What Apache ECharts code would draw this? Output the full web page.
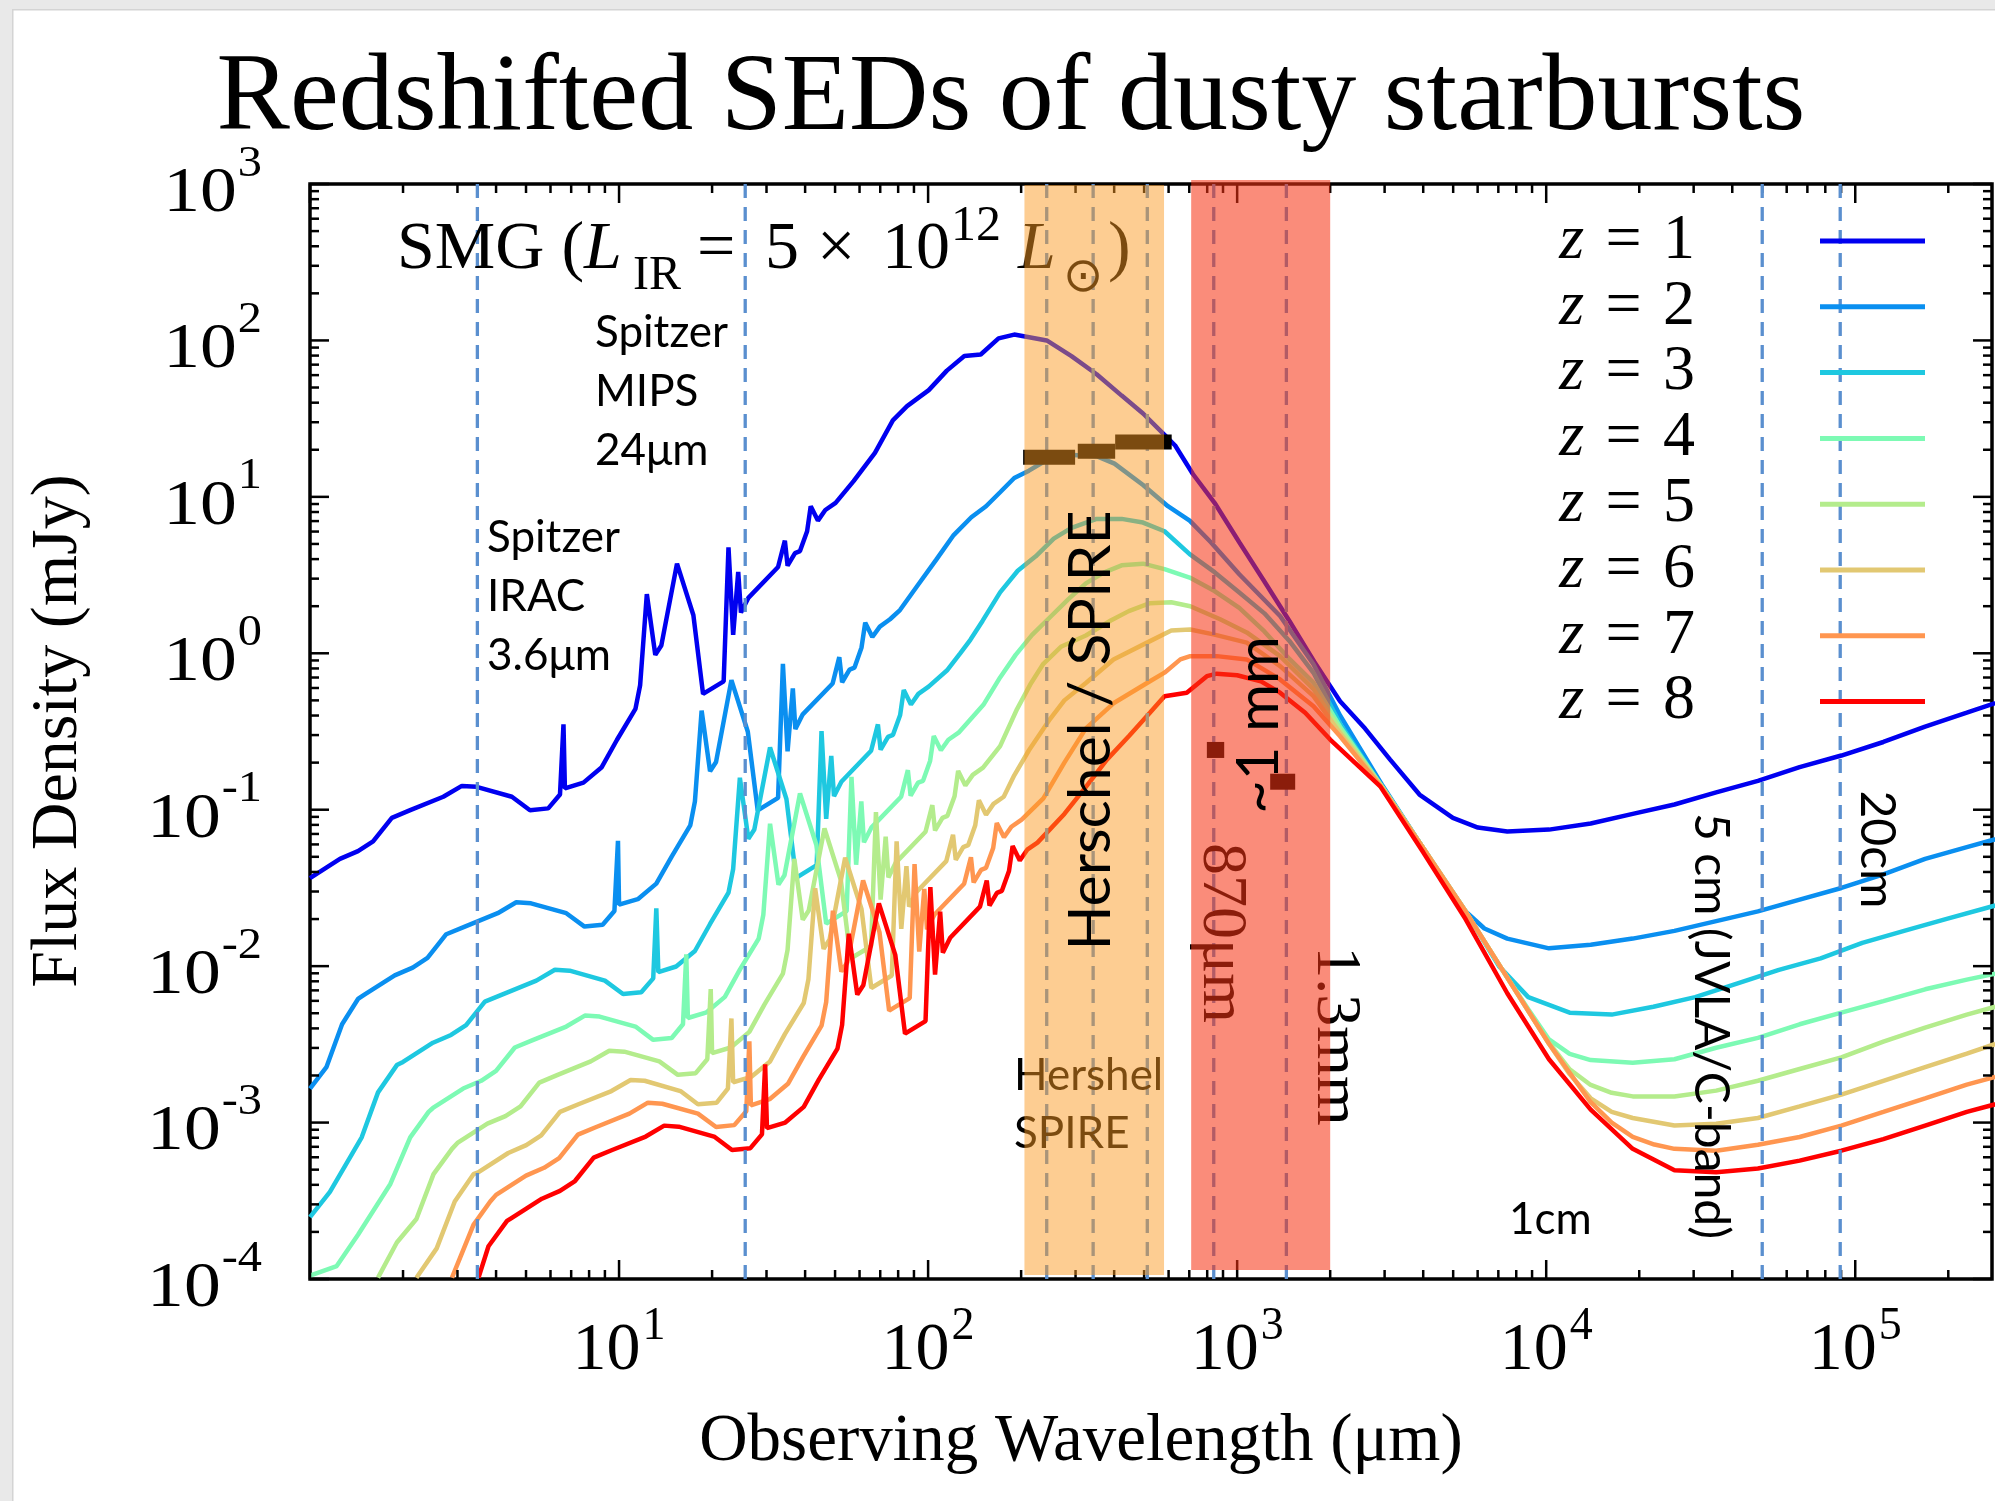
<!DOCTYPE html>
<html><head><meta charset="utf-8">
<script src="https://cdn.jsdelivr.net/npm/echarts@6/dist/echarts.min.js"></script>
<style>html,body{margin:0;padding:0;background:#fff}#c{width:1995px;height:1501px}</style>
</head><body><div id="c"></div>
<script>
// ---------------- data (wavelength in micron, flux density in mJy) ----------------
const seriesNames = ['z = 1','z = 2','z = 3','z = 4','z = 5','z = 6','z = 7','z = 8'];
const seriesColors = ['#0000f0','#0a8ff0','#1ec8e0','#7dfab4','#b4ec8c','#e2c872','#ff9650','#ff0000'];

const sedZ1 = [[1.0,0.0365],[1.25,0.0485],[1.43,0.0544],[1.6,0.0628],[1.84,0.0887],[2.11,0.0993],[2.7,0.121],[3.1,0.142],[3.46,0.14],[4.5,0.121],[5.15,0.0993],[5.9,0.102],[6.44,0.125],[6.61,0.351],[6.68,0.137],[7.67,0.149],[8.79,0.187],[9.84,0.279],[11.3,0.441],[11.7,0.625],[12.3,2.39],[13.1,0.977],[13.7,1.12],[15.4,3.74],[17.4,1.75],[18.7,0.55],[21.8,0.661],[22.6,4.76],[23.4,1.31],[24.3,3.31],[24.8,1.82],[26.2,2.26],[32.7,3.56],[34.4,5.25],[35.1,3.63],[37.1,4.37],[38.5,4.5],[40.6,6.03],[41.7,8.71],[44.0,7.05],[46.5,8.24],[50.2,9.16],[57.4,12.6],[67.3,19.1],[76.9,30.8],[85.5,38.0],[100.5,48.1],[115,64.1],[131,79.4],[148,81.3],[169,103],[190,109],[206,106],[242,100],[291,79.4],[351,60.8],[423,44.4],[496,34.1],[582,24.9],[630,21.3],[719,14.0],[845,9.16],[1016,5.13],[1225,2.88],[1476,1.61],[1778,0.88],[2153,0.494],[2594,0.33],[3126,0.209],[3890,0.125],[4989,0.0887],[6012,0.0769],[7482,0.0726],[10210,0.0746],[13930,0.0817],[19050,0.094],[26000,0.108],[35480,0.129],[48420,0.153],[66070,0.187],[90160,0.222],[123300,0.271],[168300,0.34],[229600,0.417],[283800,0.481]];

const sedZ2 = [[1.0,0.00165],[1.13,0.00226],[1.27,0.00425],[1.43,0.00617],[1.5,0.00657],[1.88,0.00873],[2.15,0.00979],[2.4,0.0113],[2.76,0.016],[3.17,0.0179],[4.05,0.0218],[4.65,0.0256],[5.19,0.0252],[6.75,0.0218],[7.73,0.0179],[8.85,0.0184],[9.66,0.0225],[9.92,0.0632],[10.0,0.0247],[11.5,0.0268],[13.2,0.0337],[14.8,0.0502],[17.0,0.0794],[17.6,0.113],[18.5,0.43],[19.7,0.176],[20.6,0.202],[23.1,0.673],[26.1,0.315],[28.1,0.099],[32.7,0.119],[33.9,0.857],[35.1,0.236],[36.5,0.596],[37.2,0.328],[39.3,0.407],[49.1,0.641],[51.6,0.945],[52.7,0.653],[55.7,0.787],[57.8,0.81],[60.9,1.09],[62.6,1.57],[66.0,1.27],[69.8,1.48],[75.3,1.65],[81.1,1.89],[92.7,2.73],[106,3.94],[121,5.7],[138,7.41],[154,8.71],[171,10.7],[190,13.2],[212,14.7],[242,17.2],[284,18.6],[351,18.2],[401,16.3],[496,11.9],[597,8.71],[702,7.05],[822,5.13],[1016,3.2],[1377,1.73],[1766,0.85],[2153,0.4],[2938,0.145],[4009,0.0564],[5309,0.0237],[6310,0.0174],[7482,0.015],[10210,0.013],[13930,0.0137],[19050,0.015],[26000,0.0168],[35480,0.0194],[48420,0.0224],[66070,0.0266],[90160,0.0316],[123300,0.0386],[168300,0.0485],[229600,0.0577],[283800,0.0647]];

const sedZ3 = [[1.0,0.000249],[1.16,0.000361],[1.47,0.000805],[1.66,0.00156],[1.91,0.00233],[2.0,0.00244],[2.5,0.00324],[2.86,0.00363],[3.2,0.0042],[3.68,0.00593],[4.22,0.00663],[5.4,0.00808],[6.2,0.00949],[6.92,0.00935],[9.0,0.00808],[10.3,0.00663],[11.8,0.00681],[12.9,0.00835],[13.2,0.0234],[13.4,0.00915],[15.3,0.00995],[17.6,0.0125],[19.7,0.0186],[22.6,0.0295],[23.4,0.0418],[24.6,0.16],[26.2,0.0653],[27.4,0.0748],[30.8,0.25],[34.8,0.117],[37.4,0.0367],[43.6,0.0442],[45.2,0.318],[46.8,0.0875],[48.6,0.221],[49.6,0.122],[52.4,0.151],[65.4,0.238],[68.8,0.351],[70.2,0.242],[74.2,0.292],[77.0,0.301],[81.2,0.403],[83.4,0.582],[88.0,0.471],[93.0,0.55],[100.4,0.612],[115,0.776],[127,1.0],[137,1.22],[150,1.61],[171,2.45],[195,3.37],[223,4.17],[255,5.41],[291,6.34],[351,7.23],[423,7.23],[496,6.85],[582,6.03],[702,4.3],[845,3.3],[1016,2.45],[1225,1.8],[1476,1.2],[1766,0.75],[2153,0.355],[2938,0.141],[4009,0.0564],[5483,0.0224],[7031,0.01],[8750,0.00634],[11910,0.00504],[16290,0.0049],[22230,0.0055],[30340,0.00634],[41400,0.00774],[56620,0.00946],[77270,0.0112],[105400,0.0141],[143900,0.0168],[196300,0.02],[283800,0.0244]];

const sedZ4 = [[1.0,0.000105],[1.22,0.000121],[1.43,0.000192],[1.82,0.000405],[2.11,0.000805],[2.42,0.00117],[2.5,0.00124],[3.13,0.00165],[3.58,0.00185],[4.0,0.00214],[4.6,0.00302],[5.28,0.00338],[6.75,0.00411],[7.75,0.00483],[8.65,0.00476],[11.3,0.00411],[12.9,0.00338],[14.8,0.00347],[16.1,0.00425],[16.5,0.0119],[16.7,0.00466],[19.2,0.00507],[22.0,0.00636],[24.6,0.00949],[28.3,0.015],[29.3,0.0213],[30.8,0.0813],[32.8,0.0332],[34.3,0.0381],[38.5,0.127],[43.5,0.0595],[46.8,0.0187],[54.5,0.0225],[56.5,0.162],[58.5,0.0445],[60.8,0.113],[62.0,0.0619],[65.5,0.0768],[81.8,0.121],[86.0,0.179],[87.8,0.123],[92.8,0.149],[96.3,0.153],[101.5,0.205],[104.3,0.296],[110,0.24],[116.3,0.28],[125.5,0.311],[151,0.468],[171,0.701],[192,0.977],[217,1.31],[248,1.7],[284,2.21],[324,2.8],[370,3.28],[423,3.65],[496,3.74],[582,3.45],[702,3.05],[845,2.5],[1016,1.95],[1225,1.38],[1476,0.92],[1766,0.65],[2153,0.339],[2938,0.141],[4009,0.0564],[5483,0.0224],[7482,0.00845],[8750,0.0053],[10210,0.0034],[11910,0.00275],[13930,0.00251],[19050,0.00241],[26000,0.00254],[35480,0.00301],[48420,0.00348],[66070,0.00425],[90160,0.00504],[123300,0.00598],[168300,0.00711],[229600,0.0082],[283800,0.00895]];

const sedZ5 = [[1.66,0.000102],[1.91,0.000171],[2.21,0.000242],[2.51,0.000468],[2.88,0.000679],[3.0,0.000741],[3.75,0.000985],[4.29,0.0011],[4.8,0.00127],[5.52,0.0018],[6.33,0.00202],[8.1,0.00246],[9.3,0.00288],[10.4,0.00284],[13.5,0.00246],[15.5,0.00202],[17.7,0.00207],[19.3,0.00254],[19.8,0.00713],[20.0,0.00278],[23.0,0.00302],[26.4,0.0038],[29.5,0.00566],[33.9,0.00895],[35.1,0.0127],[36.9,0.0485],[39.3,0.0198],[41.1,0.0227],[46.2,0.0759],[52.2,0.0355],[56.1,0.0112],[65.4,0.0134],[67.8,0.0966],[70.2,0.0266],[72.9,0.0672],[74.4,0.0369],[78.6,0.0459],[98.1,0.0723],[103.2,0.107],[105.3,0.0737],[111.3,0.0887],[115.5,0.0914],[121.8,0.122],[125.1,0.177],[132,0.143],[139.5,0.167],[150.6,0.186],[171,0.255],[194,0.44],[214,0.631],[236,0.857],[269,1.1],[324,1.3],[390,1.62],[446,1.86],[522,2.09],[612,2.12],[705,2.0],[881,1.65],[1074,1.36],[1377,0.96],[1766,0.59],[2153,0.324],[2938,0.141],[4009,0.0564],[5483,0.0224],[7482,0.00845],[8750,0.00519],[9594,0.0039],[10210,0.00324],[11910,0.00219],[13930,0.00174],[16290,0.00155],[19050,0.00147],[26000,0.00147],[35480,0.0016],[48420,0.00185],[66070,0.0022],[90160,0.00261],[123300,0.00329],[168300,0.00404],[229600,0.0049],[283800,0.0055]];

const sedZ6 = [[2.21,0.000102],[2.57,0.000157],[2.94,0.000313],[3.38,0.000468],[3.5,0.000481],[4.38,0.000639],[5.01,0.000717],[5.6,0.000828],[6.44,0.00117],[7.39,0.00131],[9.45,0.00159],[10.9,0.00187],[12.1,0.00185],[15.8,0.00159],[18.0,0.00131],[20.7,0.00134],[22.5,0.00165],[23.1,0.00463],[23.4,0.00181],[26.8,0.00196],[30.8,0.00246],[34.4,0.00368],[39.6,0.00581],[41.0,0.00824],[43.1,0.0315],[45.9,0.0129],[48.0,0.0148],[53.9,0.0493],[60.9,0.0231],[65.5,0.00725],[76.3,0.00871],[79.1,0.0627],[81.9,0.0173],[85.1,0.0436],[86.8,0.024],[91.7,0.0298],[114.5,0.0469],[120.4,0.0692],[122.9,0.0478],[129.9,0.0576],[134.8,0.0593],[142.1,0.0795],[146,0.115],[154,0.0929],[162.8,0.109],[175.7,0.121],[190,0.166],[212,0.24],[248,0.38],[276,0.5],[324,0.646],[398,0.912],[511,1.17],[612,1.4],[705,1.42],[838,1.32],[1074,1.17],[1377,0.828],[1766,0.532],[2153,0.309],[2938,0.14],[4009,0.0564],[5483,0.0224],[7482,0.00845],[10210,0.00319],[11910,0.00204],[13930,0.00143],[16290,0.00117],[19050,0.00107],[26000,0.000957],[35480,0.000984],[48420,0.00107],[66070,0.00127],[90160,0.00151],[123300,0.00185],[168300,0.00226],[229600,0.00276],[283800,0.00318]];

const sedZ7 = [[2.88,0.000102],[3.38,0.000222],[3.83,0.000313],[4.0,0.000345],[5.0,0.000458],[5.72,0.000514],[6.4,0.000593],[7.36,0.000837],[8.44,0.000937],[10.8,0.00114],[12.4,0.00134],[13.8,0.00132],[18.0,0.00114],[20.6,0.000937],[23.6,0.000963],[25.8,0.00118],[26.4,0.00331],[26.7,0.00129],[30.7,0.00141],[35.2,0.00177],[39.4,0.00263],[45.2,0.00416],[46.8,0.0059],[49.2,0.0226],[52.4,0.00922],[54.8,0.0106],[61.6,0.0353],[69.6,0.0165],[74.8,0.00519],[87.2,0.00624],[90.4,0.0449],[93.6,0.0124],[97.2,0.0312],[99.2,0.0172],[104.8,0.0213],[130.8,0.0336],[137.6,0.0496],[140.4,0.0343],[148.4,0.0413],[154,0.0425],[162.4,0.0569],[166.8,0.0822],[176,0.0666],[186,0.0778],[200.8,0.0865],[236,0.118],[276,0.2],[324,0.331],[398,0.479],[511,0.646],[582,0.752],[655,0.914],[705,0.959],[859,0.959],[1074,0.914],[1377,0.681],[1766,0.459],[2153,0.295],[2938,0.138],[4009,0.0564],[5483,0.0224],[7482,0.00845],[10210,0.00319],[13930,0.00135],[16290,0.001],[19050,0.000809],[22390,0.000724],[26000,0.000679],[35480,0.000661],[48420,0.000721],[66070,0.000809],[90160,0.000957],[123300,0.00117],[168300,0.00143],[229600,0.00175],[283800,0.00196]];

const sedZ8 = [[3.51,0.000102],[3.78,0.000162],[4.34,0.000235],[4.5,0.000246],[5.63,0.000326],[6.44,0.000366],[7.2,0.000423],[8.28,0.000597],[9.5,0.000668],[12.2,0.000814],[14.0,0.000956],[15.6,0.000942],[20.3,0.000814],[23.2,0.000668],[26.6,0.000686],[29.0,0.000841],[29.7,0.00236],[30.1,0.000922],[34.5,0.001],[39.6,0.00126],[44.3,0.00188],[50.9,0.00297],[52.7,0.00421],[55.4,0.0161],[59.0,0.00658],[61.7,0.00754],[69.3,0.0252],[78.3,0.0118],[84.2,0.0037],[98.1,0.00445],[101.7,0.032],[105.3,0.00882],[109.4,0.0223],[111.6,0.0122],[117.9,0.0152],[147.2,0.024],[154.8,0.0353],[158,0.0244],[167,0.0294],[173.3,0.0303],[182.7,0.0406],[187.7,0.0586],[198,0.0474],[209.3,0.0555],[225.9,0.0616],[276,0.094],[324,0.14],[379,0.209],[446,0.295],[522,0.417],[582,0.532],[687,0.56],[798,0.714],[859,0.741],[1000,0.724],[1194,0.661],[1377,0.56],[1660,0.417],[2000,0.281],[2904,0.141],[4009,0.053],[5483,0.02],[7482,0.00671],[10210,0.00254],[13930,0.00121],[19050,0.000679],[26000,0.000495],[35480,0.000481],[48420,0.000509],[66070,0.000571],[90160,0.000661],[123300,0.000783],[168300,0.000957],[229600,0.00117],[283800,0.00131]];

const sedData = [sedZ1, sedZ2, sedZ3, sedZ4, sedZ5, sedZ6, sedZ7, sedZ8];

// Herschel/SPIRE limits: [lambda start, lambda end, flux]
const spireLimits = [[203,299,17.9],[305,403,19.6],[403,614,22.4]];
// mm limits: [lambda start, lambda end, flux]
const mmLimits = [[798,908,0.241],[1279,1541,0.151]];
// shaded bands: [lambda start, lambda end, flux top, flux bottom]
const spireBand = [205,580,985,1.06e-4];
const mmBand = [710,2000,1061,1.14e-4];
// observing wavelength markers: [lambda, kind]
const instrumentLines = [[3.48,'ir'],[25.6,'ir'],[242,'band'],[342,'band'],[512,'band'],[840,'band'],[1443,'band'],[50000,'radio'],[89400,'radio']];

// axis ranges and tick labels
const xRange = [1, 277000];
const yRange = [1e-4, 1000];
const xTickLabels = [10, 100, 1000, 10000, 100000];
const yTickLabels = [1e-4, 1e-3, 1e-2, 1e-1, 1, 10, 100, 1000];

// ---------------- chart ----------------
const chart = echarts.init(document.getElementById('c'), null, {width:1995, height:1501, renderer:'canvas'});
const serif = 'Liberation Serif';
const sans = 'Lato';

function tickValues(lo, hi){
  const out = [];
  for (let e = Math.floor(Math.log10(lo)); e <= Math.ceil(Math.log10(hi)); e++) {
    for (let m = 1; m <= 9; m++) {
      const v = m * Math.pow(10, e);
      if (v >= lo * 0.999 && v <= hi * 1.001) out.push([v, m === 1]);
    }
  }
  return out;
}
const tickData = [];
tickValues(xRange[0], xRange[1]).forEach(t => tickData.push([t[0], 1, t[1] ? 0 : 1]));
tickValues(yRange[0], yRange[1]).forEach(t => tickData.push([10, t[0], t[1] ? 2 : 3]));

const labelData = xTickLabels.map(v => [v, 1, 0]).concat(yTickLabels.map(v => [10, v, 1]));
function expWidth(s, fs){ let w = 0; for (const c of s) w += (c === '-' ? 0.333 : 0.5) * fs; return w; }

const lineSeries = seriesNames.map((name, i) => ({
  type:'line', name: name, data: sedData[i], showSymbol:false, symbol:'none', silent:true,
  lineStyle:{width:4.5, color:seriesColors[i]}, itemStyle:{color:seriesColors[i]}, z:2
}));

function txt(x, y, text, opts){
  return Object.assign({type:'text', silent:true, z:4, x:x, y:y,
    style:Object.assign({text:text, fontFamily:serif, fontSize:68, fill:'#000', align:'left', verticalAlign:'middle'}, opts.style || {})},
    opts.el || {});
}

const option = {
  animation:false,
  backgroundColor:'#fff',
  textStyle:{fontFamily:serif},
  title:{
    text:'Redshifted SEDs of dusty starbursts', left:1011, top:45, textAlign:'center', padding:0,
    textStyle:{fontFamily:serif, fontSize:110, fontWeight:'normal', color:'#000', lineHeight:110}
  },
  grid:{left:310, right:3, top:184, bottom:222, show:true, borderColor:'#000', borderWidth:3.5, backgroundColor:'transparent'},
  xAxis:{
    type:'log', logBase:10, min:xRange[0], max:xRange[1],
    axisLine:{show:false}, axisTick:{show:false}, splitLine:{show:false}, axisLabel:{show:false}
  },
  yAxis:{
    type:'log', logBase:10, min:yRange[0], max:yRange[1],
    axisLine:{show:false}, axisTick:{show:false}, splitLine:{show:false}, axisLabel:{show:false}
  },
  legend:{
    data:seriesNames, orient:'vertical', right:70, top:209, itemWidth:105, itemHeight:5, itemGap:1.8,
    icon:'rect', align:'right', padding:0, selectedMode:false,
    formatter: name => '{i|z}{n|' + name.slice(1).replace(/ /g, '\u2004') + '}{sp|}',
    textStyle:{color:'#000', fontFamily:serif, fontSize:64, lineHeight:64,
      rich:{
        i:{fontFamily:serif, fontStyle:'italic', fontSize:64, lineHeight:64, color:'#000'},
        n:{fontFamily:serif, fontSize:64, lineHeight:64, color:'#000'},
        sp:{width:120, lineHeight:64}
      }}
  },
  graphic:{elements:[
    {type:'rect', silent:true, z:0, shape:{x:0,y:0,width:12,height:1501}, style:{fill:'#e9e9e9'}},
    {type:'rect', silent:true, z:0, shape:{x:0,y:0,width:1995,height:9}, style:{fill:'#e9e9e9'}},
    {type:'rect', silent:true, z:0, shape:{x:12,y:9,width:1.5,height:1492}, style:{fill:'#d4d4d4'}},
    {type:'rect', silent:true, z:0, shape:{x:12,y:9,width:1983,height:1.5}, style:{fill:'#d4d4d4'}},
    // axis names
    txt(1081, 1442, 'Observing Wavelength (μm)', {style:{fontSize:67, align:'center'}}),
    txt(59, 731, 'Flux Density (mJy)', {style:{fontSize:66, align:'center'}, el:{rotation:Math.PI/2}}),
    // SMG (L_IR = 5 x 10^12 L_sun)
    txt(397, 250, 'SMG (', {}),
    txt(584, 250, 'L', {style:{fontStyle:'italic'}}),
    txt(633, 276.8, 'IR', {style:{fontSize:48}}),
    txt(697, 250, '=', {}),
    txt(765, 250, '5', {}),
    txt(817, 250, '×', {}),
    txt(882, 250, '10', {}),
    txt(951, 226.7, '12', {style:{fontSize:50}}),
    txt(1018, 250, 'L', {style:{fontStyle:'italic'}}),
    txt(1063, 279, '⊙', {style:{fontFamily:'DejaVu Sans', fontSize:48}}),
    txt(1108, 250, ')', {}),
    // instrument labels
    txt(595, 303.5, 'Spitzer\nMIPS\n24μm', {style:{fontFamily:sans, fontSize:44, lineHeight:59, verticalAlign:'top'}}),
    txt(487, 508.5, 'Spitzer\nIRAC\n3.6μm', {style:{fontFamily:sans, fontSize:44, lineHeight:59, verticalAlign:'top'}}),
    txt(1014, 1046.5, 'Hershel\nSPIRE', {style:{fontFamily:sans, fontSize:44, lineHeight:58, verticalAlign:'top'}}),
    txt(1509, 1190, '1cm', {style:{fontFamily:sans, fontSize:44, lineHeight:59, verticalAlign:'top'}}),
    txt(1221, 933, '870μm', {style:{fontSize:64, align:'center'}, el:{rotation:-Math.PI/2}}),
    txt(1335, 1036, '1.3mm', {style:{fontSize:64, align:'center'}, el:{rotation:-Math.PI/2}}),
    txt(1710, 1026, '5 cm (JVLA/C-band)', {style:{fontFamily:sans, fontSize:48, align:'center'}, el:{rotation:-Math.PI/2, z:10}}),
    txt(1876, 849.5, '20cm', {style:{fontFamily:sans, fontSize:48, align:'center'}, el:{rotation:-Math.PI/2, z:10}}),
    txt(1091, 730.5, 'Herschel / SPIRE', {style:{fontFamily:sans, fontSize:59, align:'center'}, el:{rotation:Math.PI/2, z:10}}),
    txt(1259, 725, '~1 mm', {style:{fontFamily:sans, fontSize:58, align:'center'}, el:{rotation:Math.PI/2, z:10}})
  ]},
  series: lineSeries.concat([
    {
      type:'custom', name:'ticks', silent:true, z:3, clip:false, encode:{x:0, y:1}, data:tickData,
      renderItem:function(params, api){
        const cs = params.coordSys; const k = api.value(2);
        if (k < 2) {
          const px = api.coord([api.value(0), 1])[0]; const L = k === 0 ? 19 : 9;
          const yb = cs.y + cs.height, yt = cs.y;
          return {type:'group', children:[
            {type:'line', shape:{x1:px, y1:yb, x2:px, y2:yb - L}, style:{stroke:'#000', lineWidth:2.5}},
            {type:'line', shape:{x1:px, y1:yt, x2:px, y2:yt + L}, style:{stroke:'#000', lineWidth:2.5}}
          ]};
        }
        const py = api.coord([10, api.value(1)])[1]; const L = k === 2 ? 19 : 9;
        const xl = cs.x, xr = cs.x + cs.width;
        return {type:'group', children:[
          {type:'line', shape:{x1:xl, y1:py, x2:xl + L, y2:py}, style:{stroke:'#000', lineWidth:2.5}},
          {type:'line', shape:{x1:xr, y1:py, x2:xr - L, y2:py}, style:{stroke:'#000', lineWidth:2.5}}
        ]};
      }
    },
    {
      type:'custom', name:'tick labels', silent:true, z:3, clip:false, encode:{x:0, y:1}, data:labelData,
      renderItem:function(params, api){
        const cs = params.coordSys;
        if (api.value(2) === 0) {
          const v = api.value(0); const e = String(Math.round(Math.log10(v)));
          const px = api.coord([v, 1])[0];
          const baseW = 68, supW = expWidth(e, 46);
          const left = px - (baseW + supW + 2) / 2;
          const yb = cs.y + cs.height + 72;
          return {type:'group', children:[
            {type:'text', x:left, y:yb, style:{text:'10', fontFamily:serif, fontSize:68, fill:'#000', align:'left', verticalAlign:'middle'}},
            {type:'text', x:left + baseW + 2, y:yb - 24, style:{text:e, fontFamily:serif, fontSize:46, fill:'#000', align:'left', verticalAlign:'middle'}}
          ]};
        }
        const v = api.value(1); const e = String(Math.round(Math.log10(v)));
        const py = api.coord([10, v])[1];
        const right = cs.x - 48;
        const supW = expWidth(e, 44) * 1.1;
        return {type:'group', children:[
          {type:'text', x:right - supW - 1, y:py + 10, scaleX:1.15, style:{text:'10', fontFamily:serif, fontSize:64, fill:'#000', align:'right', verticalAlign:'middle'}},
          {type:'text', x:right, y:py - 20, scaleX:1.1, style:{text:e, fontFamily:serif, fontSize:44, fill:'#000', align:'right', verticalAlign:'middle'}}
        ]};
      }
    },
    {
      type:'custom', name:'instrument lines', silent:true, z:3, clip:false, encode:{x:0, y:1},
      data: instrumentLines.map(d => [d[0], 1, d[1] === 'band' ? 0 : 1]),
      renderItem:function(params, api){
        const cs = params.coordSys;
        const px = api.coord([api.value(0), 1])[0];
        const ext = api.value(2) === 1 ? 9 : 0;
        return {type:'line', shape:{x1:px, y1:cs.y, x2:px, y2:cs.y + cs.height + ext},
          style:{stroke:'#5a8fcf', lineWidth:3.3, lineDash:[14, 9]}};
      }
    },
    {
      type:'custom', name:'limits', silent:true, z:3, clip:false, encode:{x:[0,1], y:2},
      data: spireLimits.map(d => [d[0], d[1], d[2], 15]).concat(mmLimits.map(d => [d[0], d[1], d[2], 16])),
      renderItem:function(params, api){
        const a = api.coord([api.value(0), api.value(2)]);
        const b = api.coord([api.value(1), api.value(2)]);
        const h = api.value(3);
        return {type:'rect', shape:{x:a[0], y:a[1] - h / 2, width:b[0] - a[0], height:h}, style:{fill:'#000'}};
      }
    },
    {
      type:'custom', name:'bands', silent:true, z:5, clip:false, encode:{x:[0,1], y:[2,3]},
      data:[spireBand.concat([0]), mmBand.concat([1])],
      renderItem:function(params, api){
        const p0 = api.coord([api.value(0), api.value(2)]);
        const p1 = api.coord([api.value(1), api.value(3)]);
        return {type:'rect', shape:{x:p0[0], y:p0[1], width:p1[0] - p0[0], height:p1[1] - p0[1]},
          style:{fill: api.value(4) === 0 ? 'rgba(250,152,33,0.49)' : 'rgba(246,51,19,0.565)'}};
      }
    }
  ])
};
chart.setOption(option);
</script>
</body></html>
